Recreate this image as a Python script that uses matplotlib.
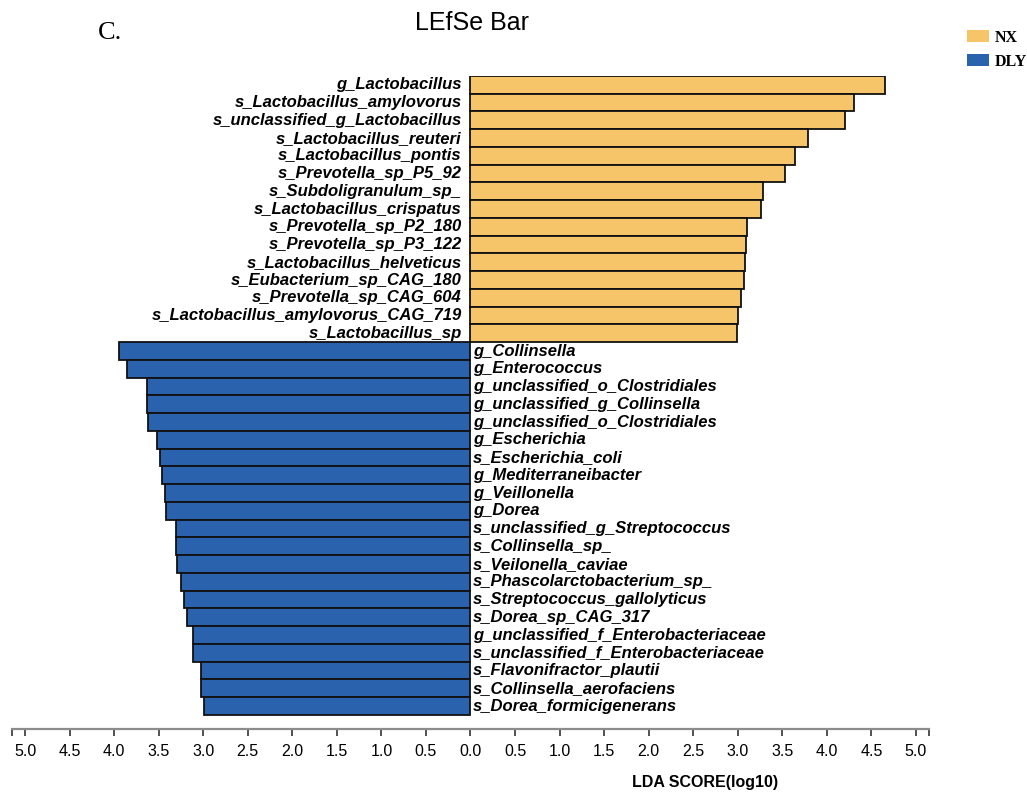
import matplotlib
matplotlib.use("Agg")
import matplotlib.pyplot as plt
from matplotlib.patches import Patch
from matplotlib.ticker import FuncFormatter

nx_names = ["g_Lactobacillus", "s_Lactobacillus_amylovorus",
            "s_unclassified_g_Lactobacillus", "s_Lactobacillus_reuteri",
            "s_Lactobacillus_pontis", "s_Prevotella_sp_P5_92",
            "s_Subdoligranulum_sp_", "s_Lactobacillus_crispatus",
            "s_Prevotella_sp_P2_180", "s_Prevotella_sp_P3_122",
            "s_Lactobacillus_helveticus", "s_Eubacterium_sp_CAG_180",
            "s_Prevotella_sp_CAG_604", "s_Lactobacillus_amylovorus_CAG_719",
            "s_Lactobacillus_sp"]
nx_lda = [4.65, 4.30, 4.20, 3.79, 3.64, 3.53, 3.28, 3.26, 3.10, 3.09,
          3.08, 3.07, 3.04, 3.00, 2.99]

dly_names = ["g_Collinsella", "g_Enterococcus", "g_unclassified_o_Clostridiales",
             "g_unclassified_g_Collinsella", "g_unclassified_o_Clostridiales",
             "g_Escherichia", "s_Escherichia_coli", "g_Mediterraneibacter",
             "g_Veillonella", "g_Dorea", "s_unclassified_g_Streptococcus",
             "s_Collinsella_sp_", "s_Veilonella_caviae",
             "s_Phascolarctobacterium_sp_", "s_Streptococcus_gallolyticus",
             "s_Dorea_sp_CAG_317", "g_unclassified_f_Enterobacteriaceae",
             "s_unclassified_f_Enterobacteriaceae", "s_Flavonifractor_plautii",
             "s_Collinsella_aerofaciens", "s_Dorea_formicigenerans"]
dly_lda = [3.94, 3.85, 3.63, 3.63, 3.62, 3.52, 3.49, 3.46, 3.43, 3.42,
           3.31, 3.30, 3.29, 3.25, 3.21, 3.18, 3.11, 3.11, 3.03, 3.02, 2.99]

groups = ["NX", "DLY"]
colors = {"NX": "#F6C56A", "DLY": "#2A62AE"}

plt.rcParams['font.family'] = ['Liberation Sans', 'DejaVu Sans']

W, H = 1027, 794
fig = plt.figure(figsize=(W / 100, H / 100), dpi=100)

# axes placed in pixel terms: x from 12 to 929, y from 76 to 729 (top-down)
ax = fig.add_axes([12 / W, (H - 729) / H, 917 / W, 653 / H])

n_nx = len(nx_names)
y_nx = list(range(n_nx))
y_dly = [n_nx + i for i in range(len(dly_names))]

ax.barh(y_nx, nx_lda, height=1.0, color=colors["NX"],
        edgecolor="#111111", linewidth=1.3)
ax.barh(y_dly, [-v for v in dly_lda], height=1.0, color=colors["DLY"],
        edgecolor="#111111", linewidth=1.3)

lab_font = dict(fontsize=12, fontweight="bold", fontstyle="italic", va="center")
for y, name in zip(y_nx, nx_names):
    ax.text(-0.1, y, name, ha="right", **lab_font)
for y, name in zip(y_dly, dly_names):
    ax.text(0.03, y, name, ha="left", **lab_font)

xmax = 5.146
ax.set_xlim(-xmax, xmax)
ax.set_ylim(36.29, -0.5)

for s in ["left", "right", "top"]:
    ax.spines[s].set_visible(False)
ax.spines["bottom"].set_color("#8c8c8c")
ax.spines["bottom"].set_linewidth(1.6)
ax.set_yticks([])

major = [i * 0.5 for i in range(-10, 11)]
ax.set_xticks(major)
ax.set_xticks([-xmax, xmax], minor=True)
ax.xaxis.set_major_formatter(FuncFormatter(lambda v, p: f"{abs(v):.1f}"))
ax.tick_params(axis="x", which="both", direction="out", length=5,
               width=1.2, color="#333333", labelsize=11.5, pad=6)

fig.text(472 / W, 1 - 23 / H, "LEfSe Bar", fontsize=18, ha="center", va="center")
fig.text(98 / W, 1 - 33 / H, "C.", fontsize=19, family="Liberation Serif",
         ha="left", va="center")
fig.text(705 / W, 1 - 782 / H, "LDA SCORE(log10)", fontsize=11.5,
         fontweight="bold", ha="center", va="center")

handles = [Patch(facecolor=colors[g], edgecolor="none", label=g) for g in groups]
fig.legend(handles=handles, loc="upper left",
           bbox_to_anchor=(962 / W, 1 - 25 / H), frameon=False,
           prop={"family": "Liberation Serif", "weight": "bold", "size": 11.5},
           handlelength=1.4, handleheight=0.75, handletextpad=0.35,
           labelspacing=0.5, borderaxespad=0, borderpad=0.3)

fig.savefig("out.png", dpi=100)
